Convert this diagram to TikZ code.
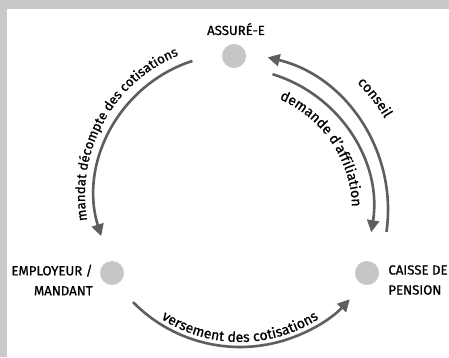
\documentclass[tikz,border=0pt]{standalone}
\usepackage{fontspec}
\setmainfont{Fira Sans}[FakeBold=0.9]
\usetikzlibrary{positioning, calc, arrows.meta, decorations.text}
\definecolor{framegray}{HTML}{C8C9C8}
\definecolor{dotgray}{HTML}{C6C6C6}
\definecolor{flowgray}{HTML}{5E5E5E}
\newcommand{\rolefont}{\fontsize{13.2}{20}\selectfont}
\newcommand{\flowfont}{\fontsize{14}{16}\selectfont}
\newcommand{\smallflowfont}{\fontsize{13.2}{16}\selectfont}
\tikzset{
    x=1pt, y=1pt,
    party/.style={circle, fill=dotgray, minimum size=24pt, inner sep=0pt}, % the grey dots
    role/.style={font=\rolefont, inner sep=0pt}, % names of the parties
    flow/.style={draw=flowgray, line width=2.6pt, -{Triangle[length=12pt, width=12pt]}}, % curved arrows
    flow label/.style={decorate, decoration={text along path, text align=center}}, % text set on an arc
}

\begin{document}
\begin{tikzpicture}
        \useasboundingbox (0,0) rectangle (449,357);
        \fill[framegray] (0,0) rectangle (449,357);
        \fill[white] (7,0) rectangle (449,348);

        \node[party] (assure) at (234,301) {};
        \node[party] (employeur) at (112,84) {};
        \node[party] (caisse) at (367,84) {};

        \node[role, anchor=base] (assure-label) at ($(assure)+(2,21)$) {ASSURÉ-E};
        \node[role, align=right, left=7pt of employeur, yshift=-7pt] (employeur-label) {EMPLOYEUR /\\MANDANT};
        \node[role, align=left, right=9pt of caisse, yshift=-7pt] (caisse-label) {CAISSE DE\\PENSION};

        % centres of the arcs
        \coordinate (hub-left) at (236,162);
        \coordinate (hub-right) at (231,147);
        \coordinate (hub-bottom) at (240,160);

        \coordinate (mandat-start) at ($(hub-left)+(108:141)$);
        \coordinate (demande-start) at ($(hub-right)+(73:142)$);
        \coordinate (conseil-start) at ($(hub-right)+(-8:157)$);
        \coordinate (versement-start) at ($(hub-bottom)+(224.5:150)$);

        \draw[flow] (mandat-start) arc[start angle=108, end angle=197, radius=141pt];
        \draw[flow] (demande-start) arc[start angle=73, end angle=-9, radius=142pt];
        \draw[flow] (conseil-start) arc[start angle=-8, end angle=76.5, radius=157pt];
        \draw[flow] (versement-start) arc[start angle=224.5, end angle=317, radius=150pt];

        % labels along the arcs
        \path[flow label, decoration={text={|\smallflowfont|mandat décompte des cotisations}}]
            ($(hub-left)+(198:151)$) arc[start angle=198, end angle=104, radius=151pt];
        \path[flow label, decoration={text={|\flowfont|demande d’affiliation}}]
            ($(hub-right)+(75:121)$) arc[start angle=75, end angle=-7, radius=121pt];
        \path[flow label, decoration={text={|\flowfont|conseil}}]
            ($(hub-right)+(60:179)$) arc[start angle=60, end angle=16, radius=179pt];
        \path[flow label, decoration={text={|\flowfont|versement des cotisations}}]
            ($(hub-bottom)+(224:145)$) arc[start angle=224, end angle=316, radius=145pt];

    \end{tikzpicture}
\end{document}
